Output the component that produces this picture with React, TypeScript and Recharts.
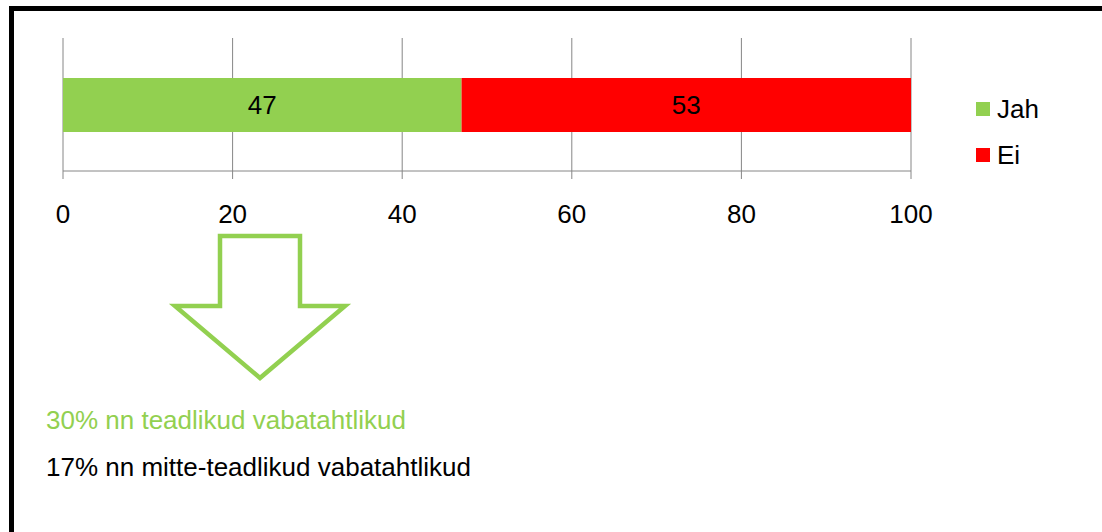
import React from 'react';
import { BarChart, Bar, XAxis, YAxis, CartesianGrid, LabelList } from 'recharts';

// Single stacked bar: share of respondents answering yes / no
const categories = ['Vastus'];
const jahValues = [47];
const eiValues = [53];
const xTicks = [0, 20, 40, 60, 80, 100];
const seriesNames = { jah: 'Jah', ei: 'Ei' };
const noteLines = ['30% nn teadlikud vabatahtlikud', '17% nn mitte-teadlikud vabatahtlikud'];

const FONT = '"Liberation Sans", Arial, sans-serif';
const GREEN = '#92D050';
const RED = '#FF0000';
const GRID = '#868686';
const FS = 26;

const data = categories.map((name, i) => ({
  name,
  jah: jahValues[i],
  ei: eiValues[i],
}));

const LegendBox = () => (
  <div style={{ fontFamily: FONT, fontSize: FS, color: '#000' }}>
    {[
      { label: seriesNames.jah, color: GREEN },
      { label: seriesNames.ei, color: RED },
    ].map((item) => (
      <div key={item.label} style={{ display: 'flex', alignItems: 'center', height: 46 }}>
        <span style={{ width: 14, height: 14, background: item.color, marginRight: 7 }} />
        <span>{item.label}</span>
      </div>
    ))}
  </div>
);

const App: React.FC = () => {
  return (
    <div
      style={{
        position: 'absolute',
        left: 0,
        top: 0,
        width: 1102,
        height: 532,
        background: '#fff',
        overflow: 'hidden',
        fontFamily: FONT,
      }}
    >
      {/* frame, right/bottom edges fall outside the view */}
      <div
        style={{
          position: 'absolute',
          left: 9,
          top: 6,
          width: 1200,
          height: 700,
          border: '5px solid #000',
          boxSizing: 'border-box',
        }}
      />
      <div style={{ position: 'absolute', left: 0, top: 0 }}>
        <BarChart
          width={1102}
          height={260}
          data={data}
          layout="vertical"
          margin={{ top: 38, right: 191, left: 63, bottom: 59 }}
        >
          <CartesianGrid vertical horizontal={false} stroke={GRID} strokeWidth={1} />
          <XAxis
            type="number"
            domain={[0, 100]}
            ticks={xTicks}
            interval={0}
            height={30}
            axisLine={{ stroke: GRID }}
            tickLine={{ stroke: GRID }}
            tickSize={8}
            tickMargin={26}
            tick={{ fill: '#000', fontSize: FS, fontFamily: FONT }}
          />
          <YAxis type="category" dataKey="name" hide />
          <Bar dataKey="jah" name={seriesNames.jah} stackId="a" fill={GREEN} barSize={54} isAnimationActive={false}>
            <LabelList dataKey="jah" position="center" fill="#000" fontSize={FS} fontFamily={FONT} />
          </Bar>
          <Bar dataKey="ei" name={seriesNames.ei} stackId="a" fill={RED} barSize={54} isAnimationActive={false}>
            <LabelList dataKey="ei" position="center" fill="#000" fontSize={FS} fontFamily={FONT} />
          </Bar>
        </BarChart>
      </div>
      <div style={{ position: 'absolute', left: 976, top: 86 }}>
        <LegendBox />
      </div>
      {/* down arrow annotation */}
      <svg style={{ position: 'absolute', left: 0, top: 0 }} width={1102} height={532}>
        <polygon
          points="220,236 300,236 300,306 345,306 260,378 175,306 220,306"
          fill="none"
          stroke={GREEN}
          strokeWidth={4.5}
        />
      </svg>
      <div style={{ position: 'absolute', left: 46, top: 405, fontSize: FS, color: GREEN, whiteSpace: 'nowrap' }}>
        {noteLines[0]}
      </div>
      <div style={{ position: 'absolute', left: 46, top: 452, fontSize: FS, color: '#000', whiteSpace: 'nowrap' }}>
        {noteLines[1]}
      </div>
    </div>
  );
};

export default App;
